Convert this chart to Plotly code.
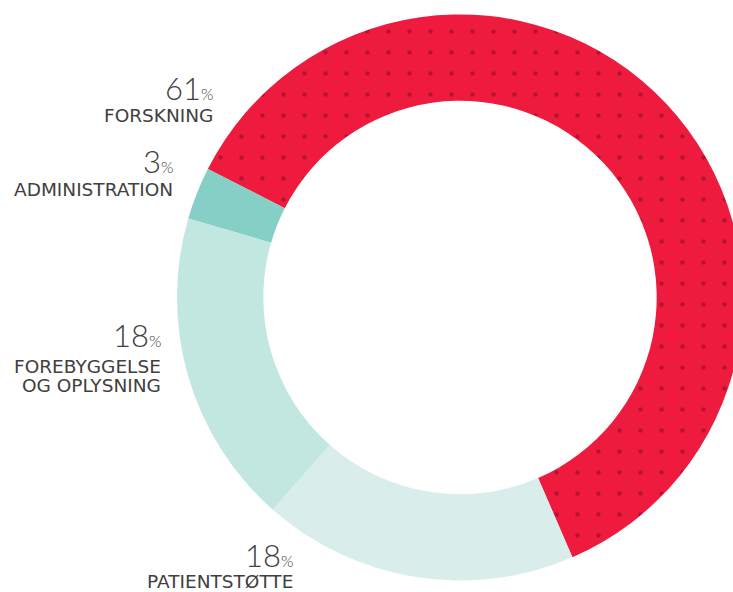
import plotly.graph_objects as go

# Data
categories = ["FORSKNING", "ADMINISTRATION", "FOREBYGGELSE OG OPLYSNING", "PATIENTSTØTTE"]
values = [61, 3, 18, 18]
pct_labels = ["61", "3", "18", "18"]
label_lines = [["FORSKNING"], ["ADMINISTRATION"], ["FOREBYGGELSE", "OG OPLYSNING"], ["PATIENTSTØTTE"]]
colors = ["#EE1B3E", "#86CFC6", "#C2E6E0", "#D9EEEB"]

W, H = 745, 592

def px(x):
    return x / W

def py(y):
    return 1 - y / H

fig = go.Figure()
fig.add_trace(go.Pie(
    values=values,
    labels=categories,
    sort=False,
    direction="counterclockwise",
    rotation=-63,
    hole=0.695,
    textinfo="none",
    hoverinfo="label+percent",
    showlegend=False,
    marker=dict(
        colors=colors,
        line=dict(width=0),
        pattern=dict(
            shape=[".", "", "", ""],
            fgcolor="#A3102C",
            fgopacity=0.75,
            bgcolor=colors,
            size=21,
            solidity=0.035,
        ),
    ),
    domain=dict(x=[177 / W, 743 / W], y=[1 - 580.5 / H, 1 - 14.5 / H]),
))

# label positions (pixel anchors: right edge x, number center y, label center y)
pos = [
    (215, 88, [115]),
    (175, 161, [189]),
    (163, 335, [366, 385]),
    (295, 555, [581]),
]

txt_color = "#404040"
ann = []
for (xr, yn, ylabs), num, lines in zip(pos, pct_labels, label_lines):
    ann.append(dict(
        x=px(xr), y=py(yn), xref="paper", yref="paper",
        xanchor="right", yanchor="middle", showarrow=False,
        text=num + "<span style='font-size:16px'>%</span>",
        font=dict(family="Lato", size=31, color=txt_color, weight=300),
    ))
    for yl, line in zip(ylabs, lines):
        ann.append(dict(
            x=px(xr), y=py(yl), xref="paper", yref="paper",
            xanchor="right", yanchor="middle", showarrow=False,
            text=line,
            font=dict(family="DejaVu Sans", size=18.5, color=txt_color),
        ))

fig.update_layout(
    width=W, height=H,
    margin=dict(l=0, r=0, t=0, b=0),
    paper_bgcolor="white",
    plot_bgcolor="white",
    annotations=ann,
)

fig.write_html(
    "out.html",
    post_script="document.body.style.overflow='hidden';document.documentElement.style.overflow='hidden';document.body.style.margin='0';",
)
